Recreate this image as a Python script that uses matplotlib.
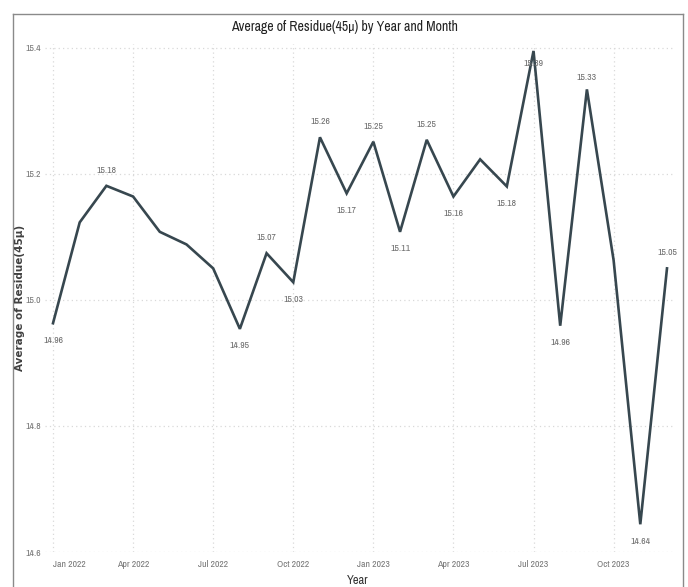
import matplotlib
matplotlib.use("Agg")
import matplotlib.pyplot as plt
from matplotlib import font_manager
from matplotlib.lines import Line2D

# Monthly averages of Residue(45μ)
months = ["Jan 2022", "Feb 2022", "Mar 2022", "Apr 2022", "May 2022", "Jun 2022",
          "Jul 2022", "Aug 2022", "Sep 2022", "Oct 2022", "Nov 2022", "Dec 2022",
          "Jan 2023", "Feb 2023", "Mar 2023", "Apr 2023", "May 2023", "Jun 2023",
          "Jul 2023", "Aug 2023", "Sep 2023", "Oct 2023", "Nov 2023", "Dec 2023"]
values = [14.963, 15.123, 15.181, 15.164, 15.108, 15.088,
          15.050, 14.954, 15.074, 15.028, 15.258, 15.169,
          15.251, 15.108, 15.254, 15.164, 15.223, 15.180,
          15.395, 14.959, 15.334, 15.063, 14.644, 15.050]

# Points that carry a data label: offset in points (positive = above)
label_offset = {0: -9, 2: 8, 7: -9, 8: 8, 9: -9, 10: 8, 11: -9, 12: 8, 13: -9,
                14: 8, 15: -9, 17: -9, 18: -6, 19: -9, 20: 5, 22: -9, 23: 8}

x_tick_idx = [0, 3, 6, 9, 12, 15, 18, 21]
y_ticks = [14.6, 14.8, 15.0, 15.2, 15.4]

# Pick a narrow face if one is installed
names = sorted({f.name for f in font_manager.fontManager.ttflist})
narrow = [n for n in names if "Narrow" in n or "Condensed" in n]
if narrow:
    cond = dict(family=[narrow[0], "DejaVu Sans"])
else:
    cond = dict(family=["Roboto", "DejaVu Sans"])

W, H = 688, 587
fig = plt.figure(figsize=(W / 100, H / 100), dpi=100)
fig.patch.set_facecolor("white")

left, right, bottom, top = 45, 675, 552, 44
ax = fig.add_axes([left / W, 1 - bottom / H, (right - left) / W, (bottom - top) / H])
ax.set_facecolor("white")

xs = list(range(len(values)))
ax.plot(xs, values, color="#37474f", lw=1.9, solid_joinstyle="miter", zorder=3)

ax.set_xlim(-0.3, len(values) - 1 + 0.3)
ax.set_ylim(14.6, 15.406)

for s in ax.spines.values():
    s.set_visible(False)

ax.set_yticks(y_ticks)
ax.set_yticklabels([f"{v:.1f}" for v in y_ticks], color="#777777", fontsize=7, **cond)
ax.set_xticks(x_tick_idx)
xl = ax.set_xticklabels([months[i] for i in x_tick_idx], color="#777777", fontsize=7, **cond)
xl[0].set_horizontalalignment("left")
xl[0].set_x(-0.1)
ax.tick_params(axis="both", length=0)
ax.tick_params(axis="x", pad=6)
ax.tick_params(axis="y", pad=3)

ax.grid(True, axis="both", color="#d9d9d9", linestyle=(0, (1, 2.5)), linewidth=0.9)
ax.set_axisbelow(True)

for i, off in label_offset.items():
    ax.annotate(f"{values[i]:.2f}", (i, values[i]),
                xytext=(0, off), textcoords="offset points",
                ha="center", va="bottom" if off > 0 else "top",
                color="#6e6e6e", fontsize=7, zorder=4, **cond)

fig.text(20 / W, 1 - 298 / H, "Average of Residue(45μ)", rotation=90,
         ha="center", va="center", fontsize=7.5, fontweight="bold",
         color="#404040")
fig.text(358 / W, 1 - 581 / H, "Year", ha="center", va="center",
         fontsize=9, color="#333333", **cond)

fig.text(0.5, 1 - 27 / H, "Average of Residue(45μ) by Year and Month",
         ha="center", va="center", fontsize=10, color="#222222", **cond)

# Visual frame
frame = dict(color="#8a8a8a", lw=1.0, transform=fig.transFigure)
fig.add_artist(Line2D([13 / W, 683 / W], [1 - 14 / H, 1 - 14 / H], **frame))
fig.add_artist(Line2D([13 / W, 13 / W], [0, 1 - 14 / H], **frame))
fig.add_artist(Line2D([683 / W, 683 / W], [0, 1 - 14 / H], **frame))

fig.savefig("out.png", dpi=100, facecolor="white")
